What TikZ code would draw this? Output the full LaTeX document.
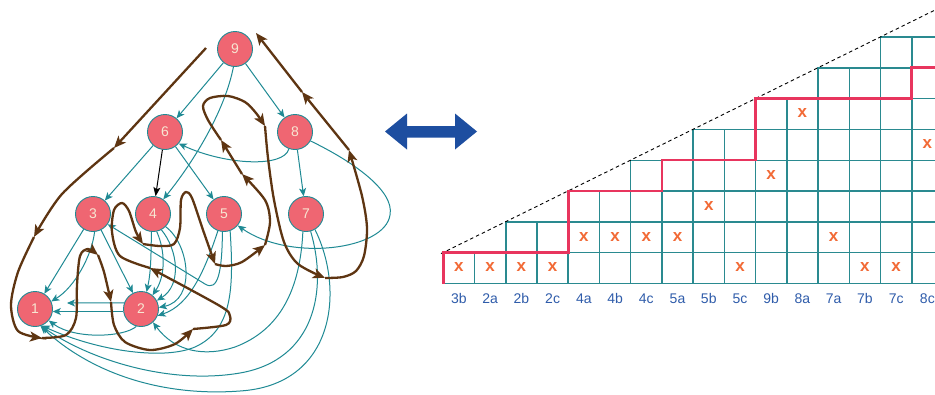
\documentclass[tikz,border=0pt]{standalone}
\usepackage{fontspec}
\setmainfont{Liberation Sans}
\usetikzlibrary{arrows.meta}
\definecolor{tealc}{HTML}{1F8A94}
\definecolor{brownc}{HTML}{5E3512}
\definecolor{nodefill}{HTML}{EF6672}
\definecolor{nodetext}{HTML}{F7E6D2}
\definecolor{gridc}{HTML}{2A8A90}
\definecolor{redc}{HTML}{E8355E}
\definecolor{orangec}{HTML}{F26A36}
\definecolor{labc}{HTML}{2F5CAA}
\definecolor{bluearrow}{HTML}{1D4EA0}
\tikzset{
  vert/.style={circle, draw=tealc, line width=0.9pt, fill=nodefill, minimum size=35pt, inner sep=0pt, text=nodetext, font=\fontsize{14}{16}\selectfont},
  edge/.style={draw=tealc, line width=1pt, -{Stealth[length=8pt,width=7pt,inset=2pt]}},
  tour/.style={draw=brownc, line width=2.3pt, -{Stealth[length=12pt,width=10pt,inset=3pt]}},
  cell/.style={draw=gridc, line width=1.5pt},
  collab/.style={text=labc, font=\fontsize{14}{16}\selectfont, inner sep=0pt},
  xmark/.style={text=orangec, font=\fontsize{17}{18}\selectfont\bfseries, inner sep=0pt},
}
\begin{document}
\begin{tikzpicture}[x=1pt,y=-1pt]
\clip (0,0) rectangle (935,394);
\fill[white] (0,0) rectangle (935,394);

% ---------- graph nodes ----------
\node[vert] (n9) at (235,49) {9};
\node[vert] (n6) at (165,132) {6};
\node[vert] (n8) at (295,132) {8};
\node[vert] (n3) at (93,214) {3};
\node[vert] (n4) at (153,214) {4};
\node[vert] (n5) at (224,214) {5};
\node[vert] (n7) at (306,214) {7};
\node[vert] (n1) at (35,309) {1};
\node[vert] (n2) at (141,309) {2};
\coordinate (t21) at (67,303);

% ---------- teal edges ----------
\draw[edge] (n9) -- (n6);
\draw[edge] (n9) -- (n8);
\draw[edge] (n9.265) .. controls (225,110) and (195,160) .. (n4.55);
\draw[edge] (n8.250) .. controls (284,168) and (225,165) .. (n6.-40);
\draw[edge] (n8) -- (n7);
\draw[edge] (n8.-30) .. controls (350,160) and (395,190) .. (390,215) .. controls (385,250) and (290,262) .. (n5.-40);
\draw[edge] (n6) -- (n3);
\draw[edge, draw=black, -{Stealth[length=9pt,width=7pt,inset=2pt]}] (n6) -- (n4);
\draw[edge] (n6) -- (n5);
\draw[edge] (n3) -- (n1);
\draw[edge] (n3.-85) .. controls (92,255) and (75,287) .. (n1.25);
\draw[edge] (n3) -- (n2);
\draw[edge] (n5.-95) .. controls (222,272) and (218,292) .. (205,284) -- (n3.-35);
\draw[edge] (n2.160) -- (t21);
\draw[edge] (n2.188) -- (n1.-8);
\draw[edge] (n2.-105) .. controls (125,337) and (75,340) .. (n1.-40);
\draw[edge] (n4.-95) .. controls (151,255) and (151,272) .. (n2.72);
\draw[edge] (n4.-78) .. controls (165,250) and (166,275) .. (n2.50);
\draw[edge] (n4.-62) .. controls (178,250) and (182,285) .. (n2.28);
\draw[edge] (n4.-45) .. controls (190,245) and (196,300) .. (n2.5);
\draw[edge] (n5.-110) .. controls (205,270) and (190,305) .. (n2.-22);
\draw[edge] (n5.-70) .. controls (234,290) and (232,330) .. (195,347) .. controls (165,360) and (100,352) .. (n1.-68);
\draw[edge] (n7.-100) .. controls (300,290) and (280,330) .. (235,347) .. controls (205,357) and (175,352) .. (n2.-48);
\draw[edge] (n7.-75) .. controls (328,290) and (315,360) .. (240,373) .. controls (170,385) and (90,360) .. (n1.-70);
\draw[edge] (n7.-60) .. controls (345,290) and (335,385) .. (240,391) .. controls (160,397) and (90,372) .. (n1.-72);

% ---------- brown tour ----------
\coordinate (b0) at (206,48);
\coordinate (b1) at (114,148);
\coordinate (b2) at (34,237);
\coordinate (b3) at (42,338);
\coordinate (b4) at (98,255);
\coordinate (b5) at (111,302);
\coordinate (b6) at (193,329);
\coordinate (b7) at (150,268);
\coordinate (b8) at (143,244);
\coordinate (b9) at (215,264);
\coordinate (b10) at (265,245);
\coordinate (b11) at (242,174);
\coordinate (b12) at (221,140);
\coordinate (b13) at (265,126);
\coordinate (b14) at (325,278);
\coordinate (b15) at (349,150);
\coordinate (b16) at (302,92);
\coordinate (b17) at (256,33);
\draw[tour] (b0) -- (b1);
\draw[tour] plot[smooth] coordinates {(b1) (62,194) (b2)};
\draw[tour] plot[smooth] coordinates {(b2) (18,272) (11,305) (18,331) (b3)};
\draw[tour] plot[smooth] coordinates {(b3) (66,335) (76,318) (77,285) (80,256) (88,249) (b4)};
\draw[tour] plot[smooth] coordinates {(b4) (104,272) (b5)};
\draw[tour] plot[smooth] coordinates {(b5) (114,325) (125,342) (150,350) (175,344) (b6)};
\draw[tour] plot[smooth] coordinates {(b6) (226,325) (230,316) (220,306) (b7)};
\draw[tour] plot[smooth] coordinates {(b7) (120,256) (112,232) (114,210) (122,203) (129,211) (136,232) (b8)};
\draw[tour] plot[smooth] coordinates {(b8) (160,246) (174,244) (180,228) (181,200) (186,192) (192,198) (203,230) (b9)};
\draw[tour] plot[smooth] coordinates {(b9) (226,266) (242,262) (b10)};
\draw[tour] plot[smooth] coordinates {(b10) (270,222) (265,200) (b11)};
\draw[tour] (b11) -- (b12);
\draw[tour] plot[smooth] coordinates {(b12) (208,120) (203,106) (210,98) (228,96) (245,102) (256,113) (b13)};
\draw[tour] plot[smooth] coordinates {(b13) (268,158) (274,200) (284,242) (298,264) (b14)};
\draw[tour] plot[smooth] coordinates {(b14) (343,277) (356,271) (364,256) (367,228) (362,196) (b15)};
\draw[tour] (b15) -- (b16);
\draw[tour] (b16) -- (b17);

% ---------- double arrow ----------
\fill[bluearrow] (385,131.5) -- (407,113.5) -- (407,126) -- (455,126) -- (455,113.5) -- (477,131.5)
  -- (455,149.5) -- (455,137.5) -- (407,137.5) -- (407,149.5) -- cycle;

% ---------- grid ----------
\foreach \h [count=\i from 0] in {1,1,2,2,3,3,4,4,5,5,6,6,7,7,8,8} {
  \foreach \j in {1,...,\h} {
    \draw[cell] ({443.3+31.23*\i},{283.5-30.8*(\j-1)}) rectangle +(31.23,-30.8);
  }
}
\foreach \l [count=\i from 0] in {3b,2a,2b,2c,4a,4b,4c,5a,5b,5c,9b,8a,7a,7b,7c,8c} {
  \node[collab] (c\i) at ({443.3+31.23*(\i+0.5)},298.5) {\l};
}
\foreach \c/\r in {0/0,1/0,2/0,3/0,9/0,13/0,14/0,4/1,5/1,6/1,7/1,12/1,8/2,10/3,15/4,11/5} {
  \node[xmark] (x\c-\r) at ({443.3+31.23*(\c+0.5)},{267.5-30.8*\r}) {x};
}
\draw[dash pattern=on 3.5pt off 3pt, line width=0.9pt, black] (441,253.6) -- (945,5.1);
\draw[redc, line width=2.6pt, line join=miter]
  (443.3,283.5) -- (443.3,252.5) -- (568.2,252.5) -- (568.2,190.9) -- (661.9,190.9)
  -- (661.9,160.1) -- (755.6,160.1) -- (755.6,98.5) -- (911.75,98.5) -- (911.75,67.7) -- (940,67.7);
\end{tikzpicture}
\end{document}
